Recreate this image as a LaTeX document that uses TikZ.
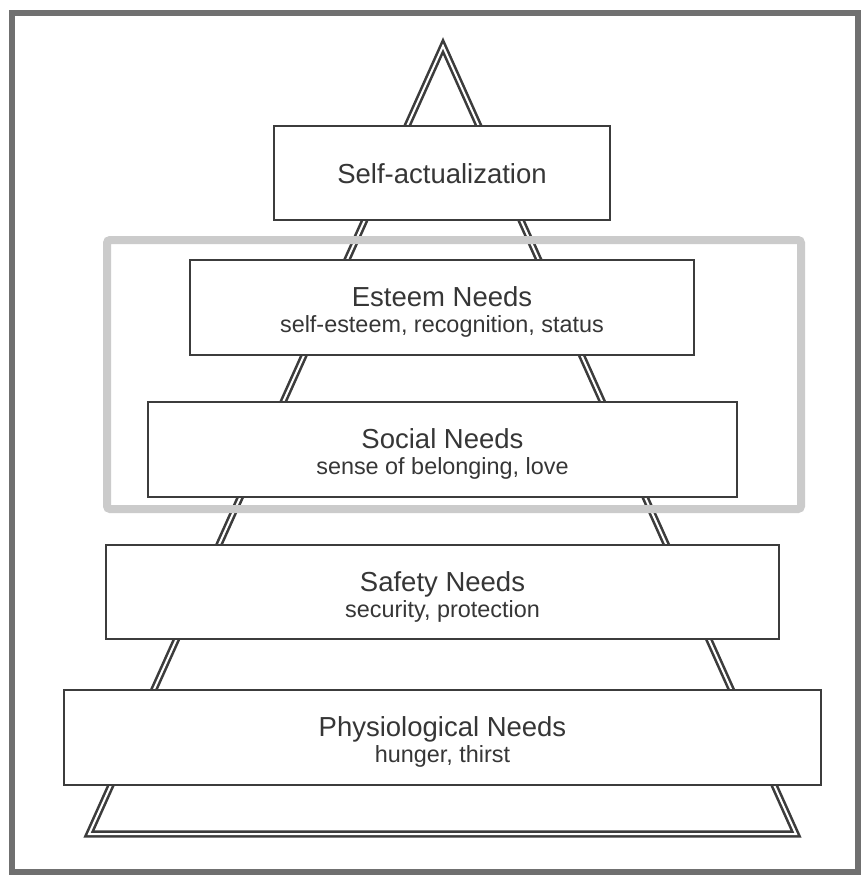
\documentclass[tikz,border=0pt]{standalone}
\usepackage{fontspec}
\setmainfont{Liberation Sans}
\definecolor{framegray}{HTML}{707070}
\definecolor{boxgray}{HTML}{3C3C3C}
\definecolor{bandgray}{HTML}{CBCBCB}
\definecolor{txtgray}{HTML}{363636}
\tikzset{
  level/.style={draw=boxgray, line width=2.5pt, fill=white, inner sep=0pt},
  title/.style={text=txtgray, font=\fontsize{27.5}{30}\selectfont, inner sep=0pt, anchor=base},
  subtitle/.style={text=txtgray, font=\fontsize{23.4}{26}\selectfont, inner sep=0pt, anchor=base},
}
\begin{document}
\begin{tikzpicture}[x=1pt, y=-1pt]
  \useasboundingbox (0,0) rectangle (865,875);
  % outer frame
  \draw[framegray, line width=6pt] (12,13) rectangle (858,872);
  % pyramid
  \draw[boxgray, line width=2.6pt, double, double distance=2pt] (443,46) -- (796,834) -- (89,834) -- cycle;
  % highlighted levels
  \draw[bandgray, line width=8pt, rounded corners=3pt] (107,240) rectangle (801,509);
  % levels, top to bottom
  \node[level, minimum width=336pt, minimum height=94pt] (selfact) at (442,173) {};
  \node[level, minimum width=504pt, minimum height=95pt] (esteem) at (442,307.5) {};
  \node[level, minimum width=589pt, minimum height=95pt] (social) at (442.5,449.5) {};
  \node[level, minimum width=673pt, minimum height=94pt] (safety) at (442.5,592) {};
  \node[level, minimum width=757pt, minimum height=95pt] (physio) at (442.5,737.5) {};
  % labels
  \node[title] (selfact-t) at ([yshift=-10pt]selfact.center) {Self-actualization};
  \node[title] (esteem-t) at ([yshift=1pt]esteem.center) {Esteem Needs};
  \node[subtitle] (esteem-s) at ([yshift=-25pt]esteem.center) {self-esteem, recognition, status};
  \node[title] (social-t) at ([yshift=1pt]social.center) {Social Needs};
  \node[subtitle] (social-s) at ([yshift=-25pt]social.center) {sense of belonging, love};
  \node[title] (safety-t) at ([yshift=1pt]safety.center) {Safety Needs};
  \node[subtitle] (safety-s) at ([yshift=-25pt]safety.center) {security, protection};
  \node[title] (physio-t) at ([yshift=1pt]physio.center) {Physiological Needs};
  \node[subtitle] (physio-s) at ([yshift=-25pt]physio.center) {hunger, thirst};
\end{tikzpicture}
\end{document}
